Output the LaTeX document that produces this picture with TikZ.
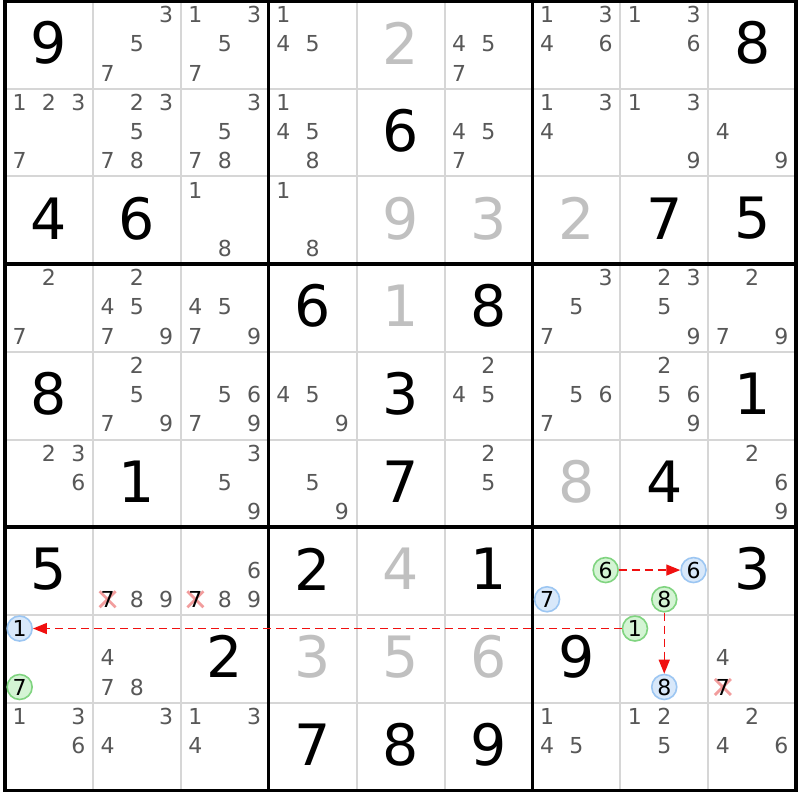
\documentclass[tikz,border=0pt]{standalone}
\usepackage{fontspec}
\setmainfont{DejaVu Sans}
\usetikzlibrary{arrows.meta}
\definecolor{pencilc}{HTML}{585858}
\definecolor{solvedc}{HTML}{C0C0C0}
\definecolor{thinc}{HTML}{D6D6D6}
\definecolor{greenfill}{HTML}{D4F4D4}
\definecolor{greenline}{HTML}{80D480}
\definecolor{bluefill}{HTML}{D8E8FA}
\definecolor{blueline}{HTML}{9CC6F2}
\definecolor{arrowc}{HTML}{F01010}
\definecolor{crossc}{HTML}{F08C8C}
\newcommand\CW{87.9}
\newcommand\CH{87.7}
\newcommand\OX{5}
\newcommand\OY{1}
\tikzset{
  givenst/.style={inner sep=0pt, text=black, font=\fontsize{57}{60}\selectfont},
  solvedst/.style={inner sep=0pt, text=solvedc, font=\fontsize{57}{60}\selectfont},
  pencilst/.style={inner sep=0pt, text=pencilc, font=\fontsize{22}{24}\selectfont},
  crossst/.style={inner sep=0pt, text=black, font=\fontsize{22}{24}\selectfont},
  greenst/.style={circle, inner sep=0pt, minimum size=25pt, draw=greenline, fill=greenfill, line width=1.6pt, text=black, font=\fontsize{22}{24}\selectfont},
  bluest/.style={circle, inner sep=0pt, minimum size=25pt, draw=blueline, fill=bluefill, line width=1.6pt, text=black, font=\fontsize{22}{24}\selectfont},
  linkst/.style={draw=arrowc, line width=1.4pt, dash pattern=on 8pt off 5pt, -{Triangle[length=14pt,width=11pt]}},
  thinline/.style={draw=thinc, line width=2pt},
  thickline/.style={draw=black, line width=3.5pt},
  xmark/.style={draw=crossc, line width=2.8pt, opacity=0.85}
}
\newcommand\skgiven[3]{\node[givenst] (g#1#2) at ({\OX+(#2-0.5)*\CW},{\OY+(#1-0.5)*\CH-2}) {#3};}
\newcommand\sksolved[3]{\node[solvedst] (s#1#2) at ({\OX+(#2-0.5)*\CW},{\OY+(#1-0.5)*\CH-2}) {#3};}
\newcommand\skpencil[3]{\foreach \dg in {#3} {%
  \pgfmathtruncatemacro\pc{mod(\dg-1,3)}%
  \pgfmathtruncatemacro\pr{floor((\dg-1)/3)}%
  \node[pencilst] (p#1#2\dg) at ({\OX+(#2-1)*\CW+(2*\pc+1)*\CW/6},{\OY+(#1-1)*\CH+(2*\pr+1)*\CH/6-1}) {\dg};}}
\newcommand\skcand[4]{%
  \pgfmathtruncatemacro\pc{mod(#3-1,3)}%
  \pgfmathtruncatemacro\pr{floor((#3-1)/3)}%
  \node[#4st] (c#1#2#3) at ({\OX+(#2-1)*\CW+(2*\pc+1)*\CW/6},{\OY+(#1-1)*\CH+(2*\pr+1)*\CH/6-1}) {#3};}
\newcommand\skcrossed[3]{%
  \pgfmathtruncatemacro\pc{mod(#3-1,3)}%
  \pgfmathtruncatemacro\pr{floor((#3-1)/3)}%
  \coordinate (x#1#2#3) at ({\OX+(#2-1)*\CW+(2*\pc+1)*\CW/6},{\OY+(#1-1)*\CH+(2*\pr+1)*\CH/6-1});
  \draw[xmark] ([shift={(-8,-8)}]x#1#2#3) -- ([shift={(8,8)}]x#1#2#3);
  \draw[xmark] ([shift={(-8,8)}]x#1#2#3) -- ([shift={(8,-8)}]x#1#2#3);
  \node[crossst] (k#1#2#3) at (x#1#2#3) {#3};}
\begin{document}
\begin{tikzpicture}[x=1pt,y=-1pt]
\useasboundingbox (0,0) rectangle (800,800);
\fill[white] (0,0) rectangle (800,800);
% grid
\foreach \i in {1,2,4,5,7,8} {
  \draw[thinline] ({\OX+\i*\CW},{\OY}) -- ({\OX+\i*\CW},{\OY+9*\CH});
  \draw[thinline] ({\OX},{\OY+\i*\CH}) -- ({\OX+9*\CW},{\OY+\i*\CH});
}
\foreach \i in {0,3,6,9} {
  \draw[thickline] ({\OX+\i*\CW},{\OY-1.75}) -- ({\OX+\i*\CW},{\OY+9*\CH+1.75});
  \draw[thickline] ({\OX-1.75},{\OY+\i*\CH}) -- ({\OX+9*\CW+1.75},{\OY+\i*\CH});
}
% row 1
\skgiven{1}{1}{9} \skpencil{1}{2}{3,5,7} \skpencil{1}{3}{1,3,5,7} \skpencil{1}{4}{1,4,5}
\sksolved{1}{5}{2} \skpencil{1}{6}{4,5,7} \skpencil{1}{7}{1,3,4,6} \skpencil{1}{8}{1,3,6} \skgiven{1}{9}{8}
% row 2
\skpencil{2}{1}{1,2,3,7} \skpencil{2}{2}{2,3,5,7,8} \skpencil{2}{3}{3,5,7,8} \skpencil{2}{4}{1,4,5,8}
\skgiven{2}{5}{6} \skpencil{2}{6}{4,5,7} \skpencil{2}{7}{1,3,4} \skpencil{2}{8}{1,3,9} \skpencil{2}{9}{4,9}
% row 3
\skgiven{3}{1}{4} \skgiven{3}{2}{6} \skpencil{3}{3}{1,8} \skpencil{3}{4}{1,8} \sksolved{3}{5}{9}
\sksolved{3}{6}{3} \sksolved{3}{7}{2} \skgiven{3}{8}{7} \skgiven{3}{9}{5}
% row 4
\skpencil{4}{1}{2,7} \skpencil{4}{2}{2,4,5,7,9} \skpencil{4}{3}{4,5,7,9} \skgiven{4}{4}{6} \sksolved{4}{5}{1}
\skgiven{4}{6}{8} \skpencil{4}{7}{3,5,7} \skpencil{4}{8}{2,3,5,9} \skpencil{4}{9}{2,7,9}
% row 5
\skgiven{5}{1}{8} \skpencil{5}{2}{2,5,7,9} \skpencil{5}{3}{5,6,7,9} \skpencil{5}{4}{4,5,9} \skgiven{5}{5}{3}
\skpencil{5}{6}{2,4,5} \skpencil{5}{7}{5,6,7} \skpencil{5}{8}{2,5,6,9} \skgiven{5}{9}{1}
% row 6
\skpencil{6}{1}{2,3,6} \skgiven{6}{2}{1} \skpencil{6}{3}{3,5,9} \skpencil{6}{4}{5,9} \skgiven{6}{5}{7}
\skpencil{6}{6}{2,5} \sksolved{6}{7}{8} \skgiven{6}{8}{4} \skpencil{6}{9}{2,6,9}
% row 7
\skgiven{7}{1}{5} \skpencil{7}{2}{8,9} \skcrossed{7}{2}{7} \skpencil{7}{3}{6,8,9} \skcrossed{7}{3}{7}
\skgiven{7}{4}{2} \sksolved{7}{5}{4} \skgiven{7}{6}{1}
\skcand{7}{7}{6}{green} \skcand{7}{7}{7}{blue} \skcand{7}{8}{6}{blue} \skcand{7}{8}{8}{green}
\skgiven{7}{9}{3}
% row 8
\skcand{8}{1}{1}{blue} \skcand{8}{1}{7}{green} \skpencil{8}{2}{4,7,8} \skgiven{8}{3}{2}
\sksolved{8}{4}{3} \sksolved{8}{5}{5} \sksolved{8}{6}{6} \skgiven{8}{7}{9}
\skcand{8}{8}{1}{green} \skcand{8}{8}{8}{blue} \skpencil{8}{9}{4} \skcrossed{8}{9}{7}
% row 9
\skpencil{9}{1}{1,3,6} \skpencil{9}{2}{3,4} \skpencil{9}{3}{1,3,4} \skgiven{9}{4}{7} \skgiven{9}{5}{8}
\skgiven{9}{6}{9} \skpencil{9}{7}{1,4,5} \skpencil{9}{8}{1,2,5} \skpencil{9}{9}{2,4,6}
% links
\draw[linkst] (c776) -- (c786);
\draw[linkst] (c788) -- (c888);
\draw[linkst] (c881) -- (c811);
\end{tikzpicture}
\end{document}
